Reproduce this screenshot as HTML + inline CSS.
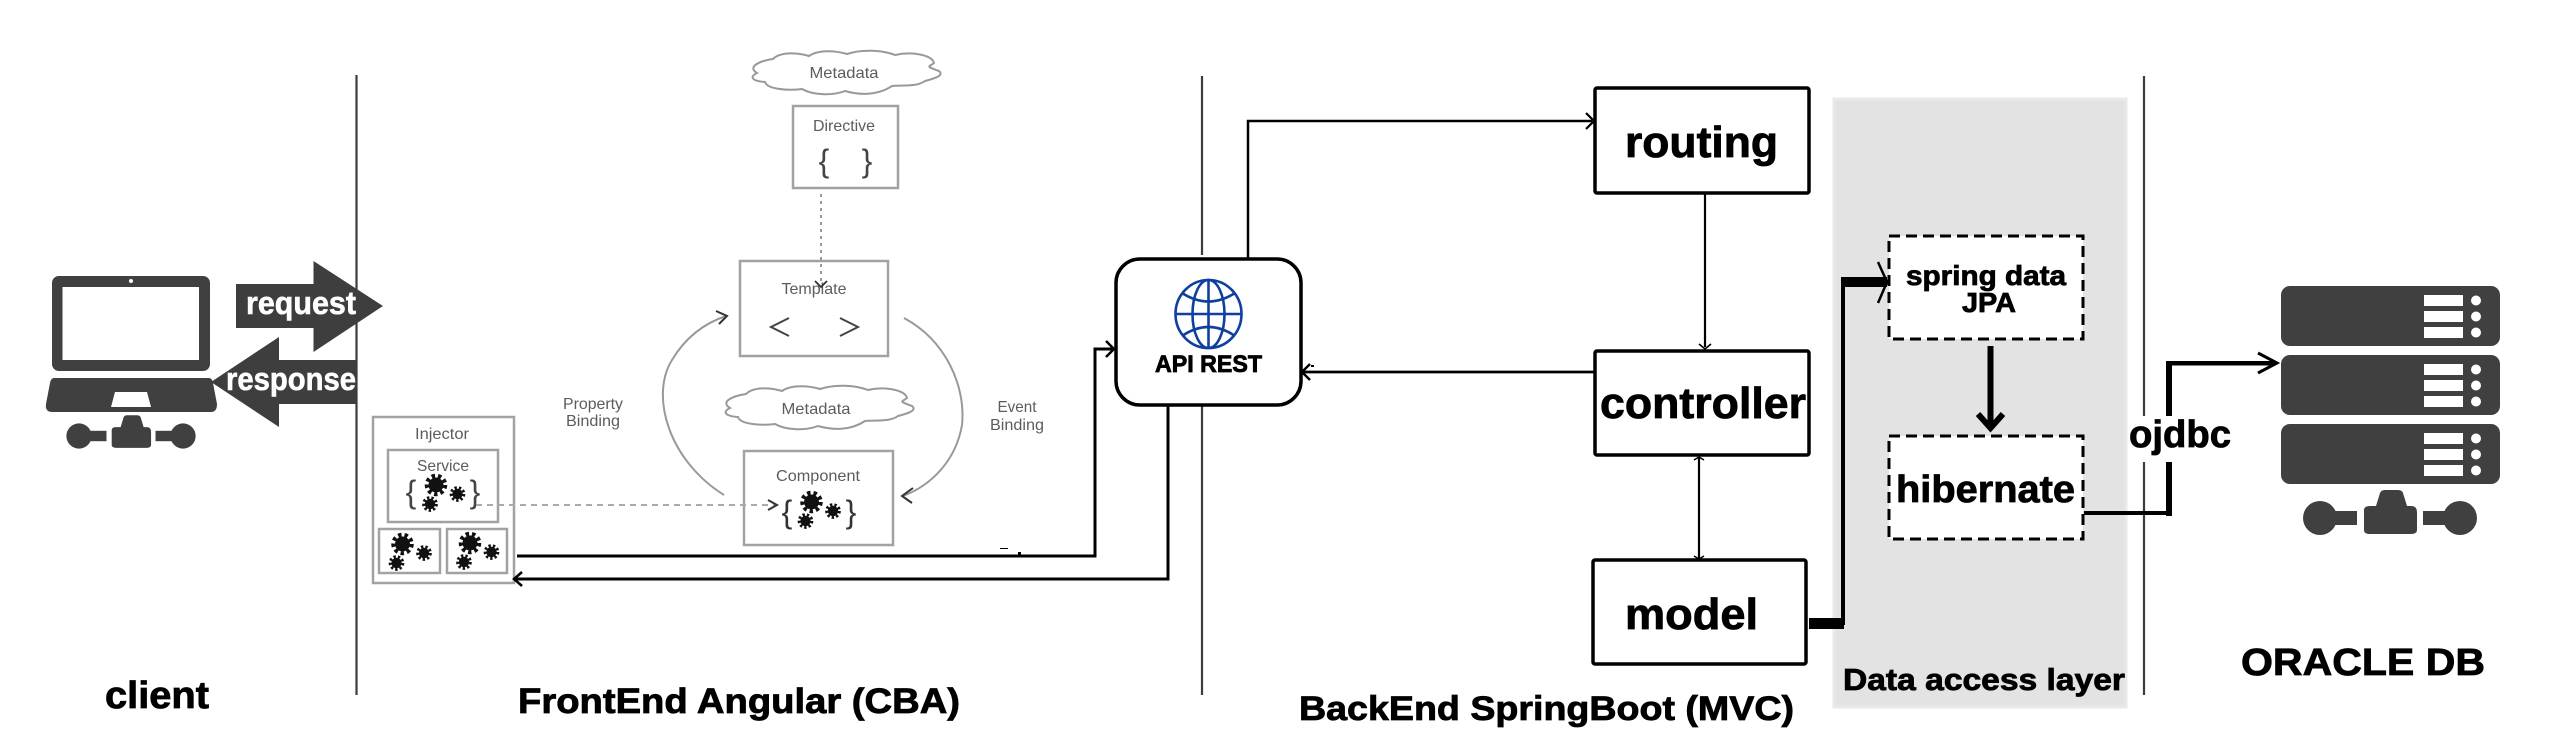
<!DOCTYPE html>
<html><head><meta charset="utf-8"><title>Architecture diagram</title>
<style>
html,body{margin:0;padding:0;background:#fff;width:2562px;height:736px;overflow:hidden}
svg{display:block}
text{font-family:"Liberation Sans",sans-serif}
.b{font-weight:700;fill:#000;stroke:#000;stroke-width:.8;paint-order:stroke}
.w{font-weight:700;fill:#fff;stroke:#fff;stroke-width:.6}
.g{fill:#5c5c5c;font-size:16px;text-anchor:middle}
.gb{fill:none;stroke:#a2a2a2;stroke-width:2.5}
</style></head><body>
<svg xmlns="http://www.w3.org/2000/svg" width="2562" height="736" viewBox="0 0 2562 736">
<defs>
<g id="gear"><circle r="6.5" fill="#111"/><circle r="8" fill="none" stroke="#111" stroke-width="3.6" stroke-dasharray="3 2.6"/></g>
<g id="gears3">
<use href="#gear" transform="translate(0,0) scale(1.15)"/>
<use href="#gear" transform="translate(21.5,9) scale(.8)"/>
<use href="#gear" transform="translate(-6,19) scale(.8)"/>
</g>
<path id="cloud" d="M10,24 C0,18 12,12 26,10 C34,2 52,4 62,7 C72,0 90,2 100,5 C115,0 135,1 148,6 C165,2 185,6 187,14 C182,18 178,17 192,22 C198,27 185,30 178,32 C170,38 155,36 145,37 C130,47 112,46 98,42 C85,47 65,46 55,40 C40,42 20,40 18,33 C5,32 2,28 10,24 Z" fill="#fff" stroke="#999" stroke-width="2"/>
<g id="conn" fill="#404040">
<circle cx="0" cy="0" r="17"/><rect x="12" y="-7" width="25" height="14"/>
<path d="M44,-8 Q44,-12 50,-12 L56,-12 L60,-25 Q61,-28 65,-28 H78 Q82,-28 83,-25 L87,-12 H91 Q97,-12 97,-6 V12 Q97,16 91,16 H50 Q44,16 44,12 Z"/>
<rect x="103" y="-7" width="28" height="14"/><circle cx="140" cy="0" r="17"/>
</g>
<g id="srv">
<rect x="0" y="0" width="219" height="60" rx="9" fill="#404040"/>
<g fill="#fff"><rect x="143" y="9" width="39" height="11"/><rect x="143" y="25" width="39" height="11"/><rect x="143" y="41" width="39" height="11"/>
<circle cx="195" cy="14.5" r="5"/><circle cx="195" cy="30.5" r="5"/><circle cx="195" cy="46.5" r="5"/></g>
</g>
</defs>

<!-- gray layer -->
<rect x="1834" y="99" width="292" height="608" fill="#e3e3e3" stroke="#e9e9e9" stroke-width="3"/>

<!-- dividers -->
<g stroke="#3c3c3c" stroke-width="2.2">
<line x1="356.5" y1="75" x2="356.5" y2="695"/>
<line x1="1202" y1="76" x2="1202" y2="255"/><line x1="1202" y1="402" x2="1202" y2="695"/>
<line x1="2144" y1="76" x2="2144" y2="695"/>
</g>

<!-- laptop -->
<rect x="52" y="276" width="158" height="95" rx="7" fill="#404040"/>
<rect x="62.5" y="287" width="136.5" height="73" fill="#fff"/>
<circle cx="131" cy="281" r="2" fill="#fff"/>
<path d="M54,378 L209,378 Q212,378 213,383 L217,404 Q217,412 211,412 L52,412 Q45,412 46,404 L50,383 Q51,378 54,378 Z" fill="#404040"/>
<path d="M115,392 L147,392 L151,407 L111,407 Z" fill="#fff"/>
<use href="#conn" transform="translate(79,436) scale(.743)"/>

<!-- request / response arrows -->
<path d="M236,284 H313.5 V261 L383,306 L313.5,352 V328 H236 Z" fill="#3e3e3e"/>
<path d="M211,382 L279,337 V360 H356 V404 H279 V427 Z" fill="#3e3e3e"/>
<text class="w" x="246" y="314" font-size="32" textLength="110" lengthAdjust="spacingAndGlyphs">request</text>
<text class="w" x="226" y="390" font-size="32" textLength="130" lengthAdjust="spacingAndGlyphs">response</text>

<!-- Angular diagram -->
<use href="#cloud" transform="translate(747,49)"/>
<text class="g" x="844" y="78" textLength="69" lengthAdjust="spacingAndGlyphs">Metadata</text>
<rect class="gb" x="793" y="106" width="105" height="82"/>
<text class="g" x="844" y="131" textLength="62" lengthAdjust="spacingAndGlyphs">Directive</text>
<text x="824" y="172" font-size="32" fill="#444" text-anchor="middle">{</text>
<text x="867" y="172" font-size="32" fill="#444" text-anchor="middle">}</text>
<line x1="821" y1="194" x2="821" y2="284" stroke="#999" stroke-width="2" stroke-dasharray="3 4"/>

<rect class="gb" x="740" y="261" width="148" height="95"/>
<text class="g" x="814" y="294" textLength="65" lengthAdjust="spacingAndGlyphs">Template</text>
<path d="M815,281 L821,287 L827,281" fill="none" stroke="#333" stroke-width="1.8"/>
<path d="M789,318 L771,327 L789,336 M840,318 L858,327 L840,336" fill="none" stroke="#444" stroke-width="2"/>

<use href="#cloud" transform="translate(720,384)"/>
<text class="g" x="816" y="414" textLength="69" lengthAdjust="spacingAndGlyphs">Metadata</text>

<rect class="gb" x="744" y="451" width="149" height="94"/>
<text class="g" x="818" y="481" textLength="84" lengthAdjust="spacingAndGlyphs">Component</text>
<text x="787" y="523" font-size="32" fill="#333" text-anchor="middle">{</text>
<text x="851" y="523" font-size="32" fill="#333" text-anchor="middle">}</text>
<use href="#gears3" transform="translate(811.5,502)"/>

<path d="M724,495 C668,460 650,395 672,360 C684,340 702,324 726,316" fill="none" stroke="#999" stroke-width="2"/>
<path d="M716,311 L727,316 L719,324" fill="none" stroke="#333" stroke-width="2"/>
<path d="M904,318 C945,340 966,385 962,425 C956,460 932,485 903,496" fill="none" stroke="#999" stroke-width="2"/>
<path d="M913,488 L902,496 L912,503" fill="none" stroke="#333" stroke-width="2"/>

<text class="g" x="593" y="409" textLength="60" lengthAdjust="spacingAndGlyphs">Property</text>
<text class="g" x="593" y="426" textLength="54" lengthAdjust="spacingAndGlyphs">Binding</text>
<text class="g" x="1017" y="412" textLength="39" lengthAdjust="spacingAndGlyphs">Event</text>
<text class="g" x="1017" y="430" textLength="54" lengthAdjust="spacingAndGlyphs">Binding</text>

<!-- injector -->
<rect class="gb" x="373" y="417" width="141" height="166" fill="#fff"/>
<text class="g" x="442" y="439" textLength="54" lengthAdjust="spacingAndGlyphs">Injector</text>
<rect class="gb" x="388" y="450" width="110" height="72"/>
<text class="g" x="443" y="471" textLength="52" lengthAdjust="spacingAndGlyphs">Service</text>
<text x="411" y="503" font-size="32" fill="#444" text-anchor="middle">{</text>
<text x="475" y="503" font-size="32" fill="#444" text-anchor="middle">}</text>
<use href="#gears3" transform="translate(436,485)"/>
<rect class="gb" x="379" y="529" width="61" height="44"/>
<rect class="gb" x="447" y="529" width="60" height="44"/>
<use href="#gears3" transform="translate(402.5,544)"/>
<use href="#gears3" transform="translate(470,543)"/>
<line x1="476" y1="505" x2="776" y2="505" stroke="#aaa" stroke-width="2" stroke-dasharray="6 5"/>
<path d="M768,500 L777,505 L768,510" fill="none" stroke="#333" stroke-width="2"/>

<!-- connectors left -->
<g fill="none" stroke="#000">
<path d="M517,556 H1095 V349 H1113" stroke-width="3"/>
<path d="M1106,341 L1114,349 L1106,357" stroke-width="2.5"/>
<path d="M1168,406 V579 H516" stroke-width="3"/>
<path d="M522,572 L514,579 L522,586" stroke-width="2.5"/>
<path d="M1248,259 V121 H1592" stroke-width="2.5"/>
<path d="M1586,113 L1594,121 L1586,129" stroke-width="2.2"/>
<path d="M1705,193 V347" stroke-width="2.2"/>
<path d="M1699,344 L1705,349 L1711,344" stroke-width="1.6"/>
<path d="M1597,372 H1303" stroke-width="2.8"/>
<path d="M1310,364 L1302,372 L1310,380" stroke-width="2.5"/>
<path d="M1699,457 V559" stroke-width="2.2"/>
<path d="M1694,460 L1699,457 L1704,460 M1694,556 L1699,559 L1704,556" stroke-width="1.5"/>
</g>
<g fill="#000"><rect x="1000" y="548" width="8" height="1"/><rect x="1018" y="552" width="3" height="4"/><rect x="1311" y="365" width="3" height="2"/></g>

<!-- API REST -->
<rect x="1116" y="259" width="185" height="146" rx="24" fill="#fff" stroke="#000" stroke-width="3.5"/>
<g fill="none" stroke="#0f3f9f" stroke-width="2.6">
<ellipse cx="1208.5" cy="314" rx="33" ry="34"/>
<ellipse cx="1208.5" cy="314" rx="16" ry="34"/>
<line x1="1208.5" y1="280" x2="1208.5" y2="348"/>
<line x1="1175.5" y1="314" x2="1241.5" y2="314"/>
<path d="M1182,293 Q1208.5,310 1235,293"/>
<path d="M1182,336 Q1208.5,318 1235,336"/>
</g>
<text class="b" x="1155" y="372" font-size="24" textLength="107" lengthAdjust="spacingAndGlyphs">API REST</text>

<!-- MVC boxes -->
<g fill="#fff" stroke="#000" stroke-width="3.5">
<rect x="1595" y="88" width="214" height="105" rx="2"/>
<rect x="1595" y="351" width="214" height="104" rx="2"/>
<rect x="1593" y="560" width="213" height="104" rx="2"/>
</g>
<text class="b" x="1625" y="157" font-size="44" textLength="153" lengthAdjust="spacingAndGlyphs">routing</text>
<text class="b" x="1600" y="418" font-size="44" textLength="206" lengthAdjust="spacingAndGlyphs">controller</text>
<text class="b" x="1625" y="629" font-size="44" textLength="133" lengthAdjust="spacingAndGlyphs">model</text>

<!-- model to data layer -->
<rect x="1809" y="618" width="35" height="11" fill="#000"/>
<rect x="1841" y="279" width="4" height="346" fill="#000"/>
<rect x="1841" y="277" width="46" height="10" fill="#000"/>

<!-- data access -->
<rect x="1889" y="236" width="194" height="103" fill="#fff" stroke="#000" stroke-width="3" stroke-dasharray="11 6"/>
<rect x="1889" y="436" width="194" height="103" fill="#fff" stroke="#000" stroke-width="3" stroke-dasharray="11 6"/>
<path d="M1878,262 L1887,282 L1878,303" fill="none" stroke="#000" stroke-width="2.5"/>
<text class="b" x="1906" y="285" font-size="28" textLength="160" lengthAdjust="spacingAndGlyphs">spring data</text>
<text class="b" x="1962" y="312" font-size="28" textLength="54" lengthAdjust="spacingAndGlyphs">JPA</text>
<rect x="1987.5" y="346" width="6" height="80" fill="#000"/>
<path d="M1978,414 L1990.5,428 L2003,414" fill="none" stroke="#000" stroke-width="6"/>
<text class="b" x="1896" y="502" font-size="38" textLength="179" lengthAdjust="spacingAndGlyphs">hibernate</text>
<text class="b" x="1843" y="690" font-size="31" textLength="282" lengthAdjust="spacingAndGlyphs">Data access layer</text>

<!-- to DB -->
<path d="M2084,513 H2169" fill="none" stroke="#000" stroke-width="4"/>
<rect x="2166" y="363" width="6" height="153" fill="#000"/>
<rect x="2166" y="361" width="110" height="4.5" fill="#000"/>
<path d="M2258,353 L2277,363 L2258,373" fill="none" stroke="#000" stroke-width="3"/>
<rect x="2129" y="416" width="102" height="46" fill="#fff"/>
<text class="b" x="2129" y="447" font-size="38" textLength="102" lengthAdjust="spacingAndGlyphs">ojdbc</text>

<!-- server -->
<use href="#srv" transform="translate(2281,286)"/>
<use href="#srv" transform="translate(2281,355)"/>
<use href="#srv" transform="translate(2281,424)"/>
<use href="#conn" transform="translate(2320,518)"/>

<!-- labels -->
<text class="b" x="105" y="708" font-size="38" textLength="104" lengthAdjust="spacingAndGlyphs">client</text>
<text class="b" x="518" y="713" font-size="35" textLength="442" lengthAdjust="spacingAndGlyphs">FrontEnd Angular (CBA)</text>
<text class="b" x="1299" y="720" font-size="34" textLength="495" lengthAdjust="spacingAndGlyphs">BackEnd SpringBoot (MVC)</text>
<text class="b" x="2241" y="675" font-size="38" textLength="244" lengthAdjust="spacingAndGlyphs">ORACLE DB</text>
</svg>
</body></html>
